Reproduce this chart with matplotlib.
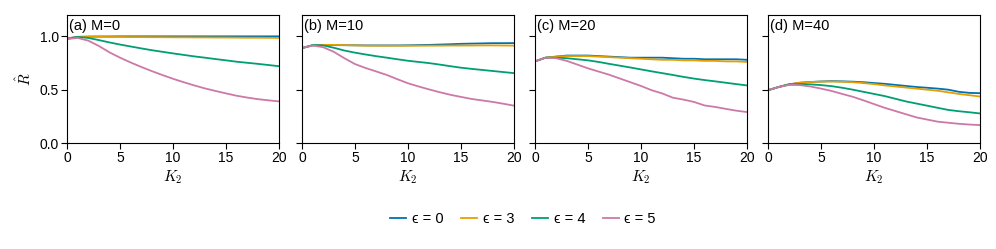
import matplotlib
matplotlib.use('Agg')
import matplotlib.pyplot as plt
import numpy as np

plt.rcParams['font.family'] = ['Liberation Sans', 'DejaVu Sans']
plt.rcParams['mathtext.fontset'] = 'cm'

k2 = np.arange(0, 21)
eps_labels = ['ϵ = 0', 'ϵ = 3', 'ϵ = 4', 'ϵ = 5']
colors = ['#0072B2', '#E69F00', '#009E73', '#CC79A7']
panel_titles = ['(a) M=0', '(b) M=10', '(c) M=20', '(d) M=40']

# M = 0
r_m0_e0 = [0.98, 0.995, 0.998, 0.999, 0.999, 1.0, 1.0, 1.0, 1.0, 1.0, 1.0,
           1.0, 1.0, 1.0, 1.0, 1.0, 1.0, 1.0, 1.0, 1.0, 1.0]
r_m0_e3 = [0.98, 0.995, 0.995, 0.995, 0.994, 0.994, 0.993, 0.993, 0.992, 0.992, 0.991,
           0.991, 0.99, 0.99, 0.989, 0.989, 0.988, 0.987, 0.987, 0.986, 0.985]
r_m0_e4 = [0.975, 0.995, 0.985, 0.965, 0.943, 0.923, 0.905, 0.887, 0.87, 0.855, 0.84,
           0.826, 0.812, 0.80, 0.787, 0.775, 0.762, 0.752, 0.742, 0.731, 0.72]
r_m0_e5 = [0.975, 0.985, 0.96, 0.91, 0.85, 0.80, 0.755, 0.713, 0.674, 0.637, 0.602,
           0.57, 0.54, 0.512, 0.488, 0.465, 0.443, 0.426, 0.411, 0.40, 0.39]

# M = 10
r_m10_e0 = [0.89, 0.915, 0.918, 0.918, 0.917, 0.916, 0.915, 0.915, 0.915, 0.915, 0.916,
            0.918, 0.92, 0.923, 0.926, 0.93, 0.932, 0.934, 0.936, 0.936, 0.937]
r_m10_e3 = [0.89, 0.915, 0.92, 0.92, 0.918, 0.915, 0.913, 0.912, 0.912, 0.912, 0.912,
            0.912, 0.913, 0.913, 0.914, 0.914, 0.914, 0.915, 0.915, 0.914, 0.913]
r_m10_e4 = [0.89, 0.918, 0.915, 0.893, 0.867, 0.847, 0.83, 0.814, 0.80, 0.785, 0.771,
            0.76, 0.749, 0.735, 0.72, 0.706, 0.695, 0.685, 0.675, 0.665, 0.655]
r_m10_e5 = [0.89, 0.915, 0.898, 0.855, 0.795, 0.74, 0.703, 0.671, 0.638, 0.598, 0.56,
            0.53, 0.502, 0.476, 0.452, 0.432, 0.413, 0.399, 0.385, 0.368, 0.35]

# M = 20
r_m20_e0 = [0.765, 0.80, 0.81, 0.82, 0.82, 0.82, 0.815, 0.81, 0.805, 0.80, 0.80,
            0.80, 0.80, 0.795, 0.79, 0.79, 0.785, 0.785, 0.785, 0.785, 0.78]
r_m20_e3 = [0.765, 0.80, 0.81, 0.815, 0.815, 0.815, 0.81, 0.805, 0.80, 0.795, 0.79,
            0.785, 0.78, 0.78, 0.775, 0.775, 0.77, 0.77, 0.765, 0.765, 0.76]
r_m20_e4 = [0.765, 0.80, 0.80, 0.795, 0.785, 0.775, 0.76, 0.742, 0.725, 0.708, 0.69,
            0.672, 0.655, 0.638, 0.62, 0.604, 0.59, 0.578, 0.565, 0.552, 0.54]
r_m20_e5 = [0.765, 0.80, 0.795, 0.77, 0.735, 0.70, 0.67, 0.64, 0.605, 0.57, 0.535,
            0.495, 0.465, 0.425, 0.407, 0.385, 0.352, 0.338, 0.32, 0.303, 0.29]

# M = 40
r_m40_e0 = [0.495, 0.525, 0.55, 0.565, 0.572, 0.577, 0.58, 0.578, 0.575, 0.57, 0.562,
            0.555, 0.545, 0.535, 0.525, 0.518, 0.51, 0.50, 0.48, 0.47, 0.467]
r_m40_e3 = [0.495, 0.525, 0.55, 0.565, 0.572, 0.575, 0.576, 0.574, 0.57, 0.562, 0.552,
            0.54, 0.53, 0.52, 0.51, 0.50, 0.49, 0.475, 0.46, 0.448, 0.436]
r_m40_e4 = [0.495, 0.525, 0.55, 0.553, 0.55, 0.543, 0.533, 0.518, 0.50, 0.48, 0.46,
            0.44, 0.415, 0.39, 0.37, 0.35, 0.33, 0.31, 0.298, 0.288, 0.277]
r_m40_e5 = [0.495, 0.525, 0.545, 0.543, 0.53, 0.51, 0.488, 0.46, 0.433, 0.40, 0.365,
            0.33, 0.30, 0.27, 0.24, 0.22, 0.20, 0.19, 0.18, 0.173, 0.168]

panels = [
    [r_m0_e0, r_m0_e3, r_m0_e4, r_m0_e5],
    [r_m10_e0, r_m10_e3, r_m10_e4, r_m10_e5],
    [r_m20_e0, r_m20_e3, r_m20_e4, r_m20_e5],
    [r_m40_e0, r_m40_e3, r_m40_e4, r_m40_e5],
]

fig = plt.figure(figsize=(9.96, 2.49), dpi=100)
lefts = [0.0673, 0.3032, 0.5371, 0.7711]
axes = []
for i, left in enumerate(lefts):
    ax = fig.add_axes([left, 0.4257, 0.2129, 0.514])
    for series, c, lab in zip(panels[i], colors, eps_labels):
        ax.plot(k2, series, color=c, lw=1.3, label=lab)
    ax.set_xlim(0, 20)
    ax.set_ylim(0, 1.2)
    ax.set_xticks([0, 5, 10, 15, 20])
    ax.set_yticks([0.0, 0.5, 1.0])
    ax.tick_params(labelsize=10, length=4, width=0.8, pad=2)
    if i == 0:
        ax.set_yticklabels(['0.0', '0.5', '1.0'])
        ax.set_ylabel(r'$\hat{R}$', fontsize=11, labelpad=4)
    else:
        ax.set_yticklabels([])
    ax.set_xlabel(r'$K_2$', fontsize=11, labelpad=2)
    ax.text(0.01, 0.97, panel_titles[i], transform=ax.transAxes,
            ha='left', va='top', fontsize=10.5)
    for s in ax.spines.values():
        s.set_linewidth(0.8)
    axes.append(ax)

handles, labels = axes[0].get_legend_handles_labels()
fig.legend(handles, labels, loc='center', bbox_to_anchor=(0.525, 0.12),
           ncol=4, frameon=False, fontsize=10.5, handlelength=1.1,
           columnspacing=1.2, handletextpad=0.4)

fig.savefig('out.png', dpi=100)
